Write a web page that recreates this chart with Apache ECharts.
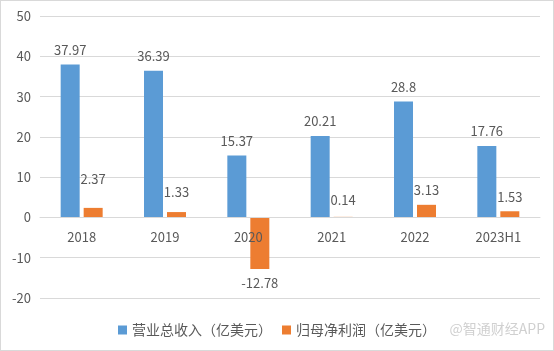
<!DOCTYPE html>
<html>
<head>
<meta charset="utf-8">
<script src="https://cdn.jsdelivr.net/npm/echarts@6/dist/echarts.min.js"></script>
<style>
    html, body { margin: 0; padding: 0; background: #fff; }
    #chart { width: 552px; height: 349px; border: 1px solid #d9d9d9; }
</style>
</head>
<body>
<div id="chart"></div>
<script>
// Chart data
var categories = ['2018', '2019', '2020', '2021', '2022', '2023H1'];
var revenue = [37.97, 36.39, 15.37, 20.21, 28.8, 17.76];
var netProfit = [2.37, 1.33, -12.78, 0.14, 3.13, 1.53];
var seriesNames = ['营业总收入（亿美元）', '归母净利润（亿美元）'];
var yTicks = { min: -20, max: 50, interval: 10 };

var fontFamily = '"Microsoft YaHei", "Noto Sans CJK SC", sans-serif';
var textColor = '#595959';

// Init chart
var chart = echarts.init(document.getElementById('chart'));

// Extra lift for some profit labels, as in the reference
var profitLift = [14, 6, 0, 2, 0, 0];

chart.setOption({
    color: ['#5B9BD5', '#ED7D31'],
    animation: false,
    textStyle: {
        fontFamily: fontFamily,
        fontSize: 12,
        color: textColor
    },
    grid: {
        left: 39,
        right: 13,
        top: 15,
        bottom: 52
    },
    legend: {
        data: seriesNames,
        bottom: 8,
        left: 112,
        itemWidth: 9,
        itemHeight: 9,
        itemGap: 10,
        icon: 'rect',
        textStyle: {
            fontFamily: fontFamily,
            fontSize: 14,
            color: textColor
        }
    },
    graphic: [{
        type: 'text',
        right: 8,
        bottom: 14,
        style: {
            text: '@智通财经APP',
            fontFamily: fontFamily,
            fontSize: 14,
            fill: '#d0d0d0'
        }
    }],
    xAxis: {
        type: 'category',
        data: categories,
        z: 5,
        // zero line sits 2 ticks above the grid bottom
        offset: -81,
        axisTick: { show: false },
        axisLine: {
            onZero: false,
            lineStyle: { color: '#d9d9d9' }
        },
        axisLabel: {
            color: textColor,
            fontSize: 13,
            margin: 14
        }
    },
    yAxis: {
        type: 'value',
        min: yTicks.min,
        max: yTicks.max,
        interval: yTicks.interval,
        axisLine: { show: false },
        axisTick: { show: false },
        axisLabel: {
            color: textColor,
            fontSize: 13,
            margin: 9
        },
        splitLine: {
            lineStyle: { color: '#d9d9d9' }
        }
    },
    series: [
        {
            name: seriesNames[0],
            type: 'bar',
            barWidth: 19,
            barGap: '21%',
            data: revenue,
            label: {
                show: true,
                position: 'top',
                distance: 8,
                fontSize: 13,
                color: textColor
            }
        },
        {
            name: seriesNames[1],
            type: 'bar',
            barWidth: 19,
            data: netProfit.map(function(v, i) {
                return {
                    value: v,
                    label: {
                        position: v < 0 ? 'bottom' : 'top',
                        distance: 8 + profitLift[i]
                    }
                };
            }),
            label: {
                show: true,
                fontSize: 13,
                color: textColor
            }
        }
    ]
});
</script>
</body>
</html>
